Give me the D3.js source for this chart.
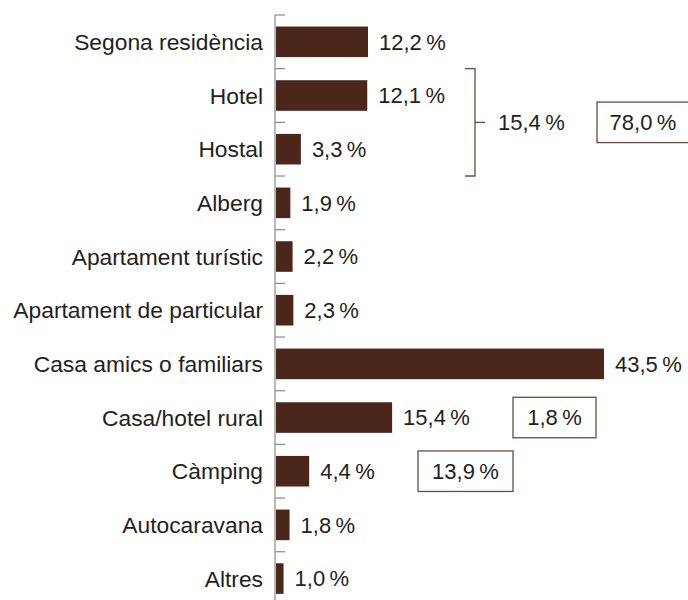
<!DOCTYPE html>
<html>
<head>
<meta charset="utf-8">
<script src="https://cdn.jsdelivr.net/npm/d3@7"></script>
<style>
html,body{margin:0;padding:0;background:#fff;}
svg{display:block;}
text{font-family:"Liberation Sans",Arial,Helvetica,sans-serif;fill:#231f20;}
</style>
</head>
<body>
<svg id="chart" width="688" height="600"></svg>
<script>
const categories = ["Segona residència","Hotel","Hostal","Alberg","Apartament turístic","Apartament de particular","Casa amics o familiars","Casa/hotel rural","Càmping","Autocaravana","Altres"];
const values = [12.2,12.1,3.3,1.9,2.2,2.3,43.5,15.4,4.4,1.8,1.0];
const bracketGroup = ["Hotel","Hostal"];
const bracketLabel = "15,4";
const boxLabels = [
  {after:"Hotel", text:"78,0"},
  {after:"Casa/hotel rural", text:"1,8"},
  {after:"Càmping", text:"13,9"}
];

const svg = d3.select("#chart");
const fmt = v => d3.format(".1f")(v).replace(".", ",") + "\u2009%";

const y = d3.scaleBand().domain(categories).range([15, 605.4]).paddingInner(0.43).paddingOuter(0.215);
const x = d3.scaleLinear().domain([0, 43.5]).range([276, 604]);
const step = y.step();
const boundary = c => y(c) - step * y.paddingInner() / 2;

const fontSize = 22;
const catFontSize = 22.8;
const axisColor = "#8a8a8a";
const barColor = "#4a261b";
const accent = "#6e4a3e";

// axis line
svg.append("line").attr("x1",275).attr("x2",275).attr("y1",15).attr("y2",605)
  .attr("stroke",axisColor).attr("stroke-width",1.2);
// ticks at band boundaries
svg.append("g").selectAll("line").data(categories).join("line")
  .attr("x1",275).attr("x2",285)
  .attr("y1",d=>boundary(d)).attr("y2",d=>boundary(d))
  .attr("stroke",axisColor).attr("stroke-width",1.2);

// bars
svg.append("g").selectAll("rect").data(categories).join("rect")
  .attr("x", x(0)).attr("y", d=>y(d))
  .attr("width", (d,i)=>x(values[i])-x(0))
  .attr("height", y.bandwidth())
  .attr("fill", barColor);

// category labels
svg.append("g").selectAll("text").data(categories).join("text")
  .attr("x", 263).attr("y", d=>y(d)+y.bandwidth()/2)
  .attr("dy","0.36em").attr("text-anchor","end")
  .attr("font-size",catFontSize).text(d=>d);

// value labels
svg.append("g").selectAll("text").data(categories).join("text")
  .attr("x", (d,i)=>x(values[i])+11).attr("y", d=>y(d)+y.bandwidth()/2)
  .attr("dy","0.36em").attr("font-size",fontSize)
  .text((d,i)=>fmt(values[i]));

// bracket
const bTop = boundary(bracketGroup[0]);
const bBot = boundary(bracketGroup[bracketGroup.length-1]) + step;
const bx = 475;
svg.append("path")
  .attr("d", `M${bx-10},${bTop}H${bx}V${bBot}H${bx-10}M${bx},${(bTop+bBot)/2}H${bx+10}`)
  .attr("fill","none").attr("stroke",accent).attr("stroke-width",1.3);
svg.append("text").attr("x", 498).attr("y",(bTop+bBot)/2).attr("dy","0.36em")
  .attr("font-size",fontSize).text(bracketLabel + "\u2009%");

// boxed totals
const boxPos = {"Hotel":[597, 92], "Casa/hotel rural":[513, 83], "Càmping":[418, 95]};
boxLabels.forEach(b => {
  const [bxx, bw] = boxPos[b.after];
  let cy;
  if (b.after === "Hotel") cy = bBot - step;
  else cy = y(b.after) + y.bandwidth()/2;
  const h = 40.5;
  svg.append("rect").attr("x",bxx).attr("y",cy-h/2).attr("width",bw).attr("height",h)
    .attr("fill","none").attr("stroke",accent).attr("stroke-width",1.3);
  svg.append("text").attr("x",bxx+bw/2).attr("y",cy).attr("dy","0.36em")
    .attr("text-anchor","middle").attr("font-size",fontSize).text(b.text + "\u2009%");
});
</script>
</body>
</html>
